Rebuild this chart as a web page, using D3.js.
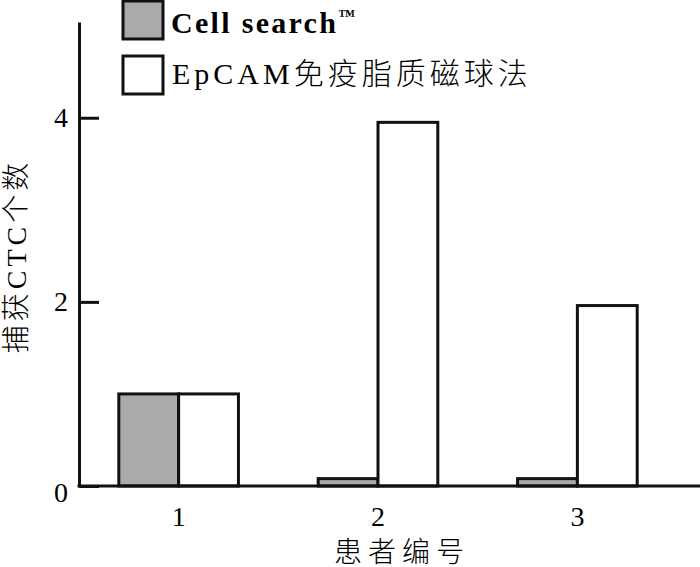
<!DOCTYPE html>
<html>
<head>
<meta charset="utf-8">
<script src="https://cdn.jsdelivr.net/npm/d3@7"></script>
<style>
  html, body { margin: 0; padding: 0; background: #fff; }
  svg { display: block; }
  text { font-family: "Liberation Serif", "Noto Sans CJK SC", serif; fill: #000; }
</style>
</head>
<body>
<svg id="chart" width="700" height="567"></svg>
<script>
const categories = ["1", "2", "3"];
const seriesNames = ["Cell search™", "EpCAM免疫脂质磁球法"];
const cellSearch = [1, 0.08, 0.08];
const epcam = [1, 3.95, 1.96];
const yTicks = [0, 2, 4];
const xTitle = "患者编号";
const yTitle = "捕获CTC个数";

const seriesValues = [cellSearch, epcam];
const fills = ["#aaaaaa", "#ffffff"];

const svg = d3.select("#chart");
const y = d3.scaleLinear().domain([0, 5.04]).range([486, 22]);
const x0 = d3.scaleBand().domain(categories).range([59, 697]).paddingInner(0.4).paddingOuter(0.3);
const x1 = d3.scaleBand().domain(seriesNames).range([0, x0.bandwidth()]);
const axisX = 79;

// bars
const data = [];
categories.forEach((c, i) => {
  seriesNames.forEach((s, j) => data.push({ c, s, v: seriesValues[j][i], j }));
});
svg.append("g").selectAll("rect").data(data).join("rect")
  .attr("x", d => x0(d.c) + x1(d.s))
  .attr("y", d => y(d.v))
  .attr("width", x1.bandwidth())
  .attr("height", d => y(0) - y(d.v))
  .attr("fill", d => fills[d.j])
  .attr("stroke", "#111")
  .attr("stroke-width", 3);

// y axis
const yAxis = svg.append("g").attr("transform", `translate(${axisX},0)`)
  .call(d3.axisLeft(y).tickValues(yTicks).tickSizeInner(-20).tickSizeOuter(0).tickPadding(11).tickFormat(d3.format("d")));
yAxis.select(".domain").attr("stroke", "#111").attr("stroke-width", 3);
yAxis.selectAll(".tick line").attr("stroke", "#111").attr("stroke-width", 3);
yAxis.selectAll(".tick text").attr("font-size", 28).attr("font-family", "Liberation Serif, serif").attr("fill", "#111");
yAxis.selectAll(".tick").filter(d => d === 0).select("text").attr("dy", "0.55em");

// x axis
const xAxis = svg.append("g").attr("transform", `translate(0,${y(0)})`)
  .call(d3.axisBottom(x0).tickSize(0).tickPadding(0));
xAxis.select(".domain").remove();
xAxis.selectAll(".tick text").attr("font-size", 28).attr("y", 40).attr("dy", 0)
  .attr("font-family", "Liberation Serif, serif").attr("fill", "#111");
svg.append("line")
  .attr("x1", axisX - 1.5).attr("x2", 700)
  .attr("y1", y(0)).attr("y2", y(0))
  .attr("stroke", "#111").attr("stroke-width", 3);

// axis titles
svg.append("text")
  .attr("x", 402).attr("y", 562)
  .attr("text-anchor", "middle")
  .attr("font-size", 28)
  .attr("letter-spacing", 6)
  .attr("font-family", "Noto Sans CJK SC, sans-serif")
  .attr("font-weight", 300)
  .text(xTitle);

svg.append("text")
  .attr("transform", "translate(26,256) rotate(-90)")
  .attr("text-anchor", "middle")
  .attr("font-size", 28)
  .attr("letter-spacing", 4)
  .attr("font-weight", 300)
  .text(yTitle);

// legend
const legend = svg.append("g");
const legendY = [20, 75];
seriesNames.forEach((s, j) => {
  legend.append("rect")
    .attr("x", 123).attr("y", legendY[j] - 19)
    .attr("width", 40).attr("height", 38)
    .attr("fill", fills[j]).attr("stroke", "#111").attr("stroke-width", 3);
});
const lt = legend.append("text")
  .attr("x", 171).attr("y", 33)
  .attr("font-size", 30).attr("font-weight", "bold").attr("letter-spacing", 2.3);
lt.append("tspan").text(seriesNames[0].slice(0, -1));
lt.append("tspan").attr("font-size", 17).attr("dy", -12).attr("letter-spacing", 0).text(seriesNames[0].slice(-1));
legend.append("text")
  .attr("x", 172).attr("y", 84)
  .attr("font-size", 30).attr("letter-spacing", 4).attr("font-weight", 300)
  .text(seriesNames[1]);
</script>
</body>
</html>
